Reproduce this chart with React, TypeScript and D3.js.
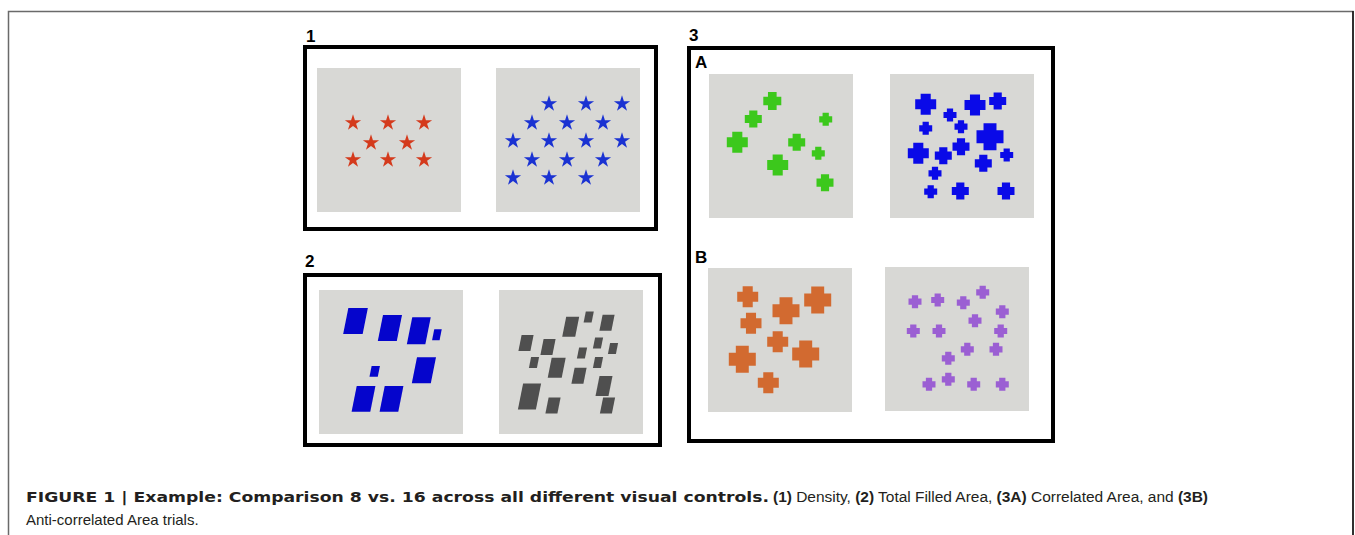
import React from "react";
import * as d3 from "d3";

// ---------- data (local coordinates inside each 144x144 stimulus square) ----------
const starsRed: [number, number][] = [
  [36, 54], [71, 54], [107, 54],
  [54, 74], [90, 74],
  [36, 91], [71, 91], [107, 91],
];
const starsBlue: [number, number][] = [
  [53, 35], [90, 35], [126, 35],
  [36, 54], [71, 54], [107, 54],
  [17, 72], [53, 72], [90, 72], [126, 72],
  [36, 91], [71, 91], [107, 91],
  [17, 109], [53, 109], [90, 109],
];
// [cx, cy, w, h]
const rectsBlue: [number, number, number, number][] = [
  [36.5, 31, 19.5, 26], [70.9, 38, 19, 26], [99.8, 40.7, 18.5, 27], [117.9, 44.7, 7.5, 11],
  [104.9, 80.3, 19, 26], [55.7, 81.3, 8.3, 10.7], [44.5, 108.8, 18.7, 25.7], [72.5, 108.8, 18.7, 25.7],
];
const rectsGray: [number, number, number, number][] = [
  [71.7, 36.7, 13, 20], [89.7, 27, 8, 11], [108, 32.7, 12, 16], [27, 53, 12, 16],
  [49, 57, 12, 16], [83, 63, 8, 11], [99, 53, 8, 11], [114, 58.5, 8, 11],
  [35, 72.5, 8, 11], [57.7, 77.7, 14, 20], [99, 72.5, 8, 11], [80, 85.8, 12, 16],
  [105, 96, 13, 20], [30.5, 106.5, 18, 26], [54, 115.5, 12, 16], [108.5, 115.5, 12, 16],
];
// [cx, cy, size]
const crossesGreen: [number, number, number][] = [
  [63.3, 27, 18], [44.3, 45, 17], [28.3, 68.3, 21], [87.7, 68.3, 17],
  [116.7, 45.3, 13], [109.3, 79.3, 13], [68.7, 91, 21], [116, 108.7, 17],
];
const crossesBlue: [number, number, number][] = [
  [35.7, 30.3, 21], [85, 31, 21], [107.7, 27, 17], [60, 41, 13],
  [35.7, 54.3, 13], [71, 52.7, 13], [100, 62.7, 27], [28.3, 79.3, 21],
  [53.3, 81.7, 17], [71, 72.7, 17], [116.7, 81, 13], [93.3, 89.3, 17],
  [45, 99.3, 13], [40.7, 117.7, 13], [70.3, 117, 17], [116, 117, 17],
];
const crossesOrange: [number, number, number][] = [
  [39.7, 28.7, 21], [78, 42.7, 27], [109.7, 32, 27], [43, 55.3, 21],
  [69.7, 73.7, 21], [34.3, 91.3, 27], [97.7, 86, 27], [60.3, 114.7, 21],
];
const crossesPurple: [number, number, number][] = [
  [30, 34.7, 13], [52.7, 33, 13], [78.3, 35.7, 13], [97.7, 25.3, 13],
  [117.3, 44.7, 13], [90, 53.7, 13], [28.3, 64, 13], [54, 64, 13],
  [115.7, 64, 13], [82.3, 82.3, 13], [111, 82.3, 13], [63.3, 91.3, 13],
  [44, 117.3, 13], [63.3, 112.3, 13], [88.7, 117.3, 13], [117.3, 117.3, 13],
];

const captionBold = "FIGURE 1 | Example: Comparison 8 vs. 16 across all different visual controls.";
const captionParts: [string, boolean][] = [
  ["(1)", true], [" Density,", false], [" (2)", true], [" Total Filled Area,", false],
  [" (3A)", true], [" Correlated Area, and", false], [" (3B)", true],
];
const captionLine2 = "Anti-correlated Area trials.";

// ---------- helpers ----------
const SQ = 144;

function scalesFor(x0: number, y0: number) {
  const x = d3.scaleLinear().domain([0, SQ]).range([x0, x0 + SQ]);
  const y = d3.scaleLinear().domain([0, SQ]).range([y0, y0 + SQ]);
  return { x, y };
}
function plusPath(s: number) {
  const h = s / 2;
  const a = s * 0.24;
  const p = d3.path();
  p.moveTo(-a, -h); p.lineTo(a, -h); p.lineTo(a, -a); p.lineTo(h, -a); p.lineTo(h, a);
  p.lineTo(a, a); p.lineTo(a, h); p.lineTo(-a, h); p.lineTo(-a, a); p.lineTo(-h, a);
  p.lineTo(-h, -a); p.lineTo(-a, -a); p.closePath();
  return p.toString();
}
function paraPath(w: number, h: number) {
  const sk = h * 0.2;
  const p = d3.path();
  p.moveTo(-w / 2 + sk / 2, -h / 2); p.lineTo(w / 2 + sk / 2, -h / 2);
  p.lineTo(w / 2 - sk / 2, h / 2); p.lineTo(-w / 2 - sk / 2, h / 2); p.closePath();
  return p.toString();
}
const starGen = d3.symbol().type(d3.symbolStar).size(82);

const Square = ({ x0, y0, children }: any) => (
  <g>
    <rect x={x0} y={y0} width={SQ} height={SQ} fill="#d8d8d5" />
    {children}
  </g>
);

function Stars({ x0, y0, data, color }: any) {
  const { x, y } = scalesFor(x0, y0);
  return (
    <Square x0={x0} y0={y0}>
      {data.map((d: [number, number], i: number) => (
        <path key={i} d={starGen() as string} transform={`translate(${x(d[0])},${y(d[1]) + 0.8})`} fill={color} />
      ))}
    </Square>
  );
}
function Paras({ x0, y0, data, color }: any) {
  const { x, y } = scalesFor(x0, y0);
  return (
    <Square x0={x0} y0={y0}>
      {data.map((d: number[], i: number) => (
        <path key={i} d={paraPath(d[2], d[3])} transform={`translate(${x(d[0])},${y(d[1])})`} fill={color} />
      ))}
    </Square>
  );
}
function Crosses({ x0, y0, data, color }: any) {
  const { x, y } = scalesFor(x0, y0);
  return (
    <Square x0={x0} y0={y0}>
      {data.map((d: number[], i: number) => (
        <path key={i} d={plusPath(d[2])} transform={`translate(${x(d[0])},${y(d[1])})`} fill={color} />
      ))}
    </Square>
  );
}

const labelStyle = { fontFamily: "Liberation Sans, Arial, sans-serif", fontWeight: 700, fontSize: 17 } as const;
const capFont = "Liberation Sans, Arial, sans-serif";

export default function App() {
  return (
    <svg width={1355} height={535} style={{ position: "absolute", left: 0, top: 0, background: "#fff" }}>
      {/* outer frame */}
      <path d="M8.5,535 L8.5,11.5 L1353,11.5 L1353,535" fill="none" stroke="#6a6a6a" strokeWidth={1.5} />
      <line x1={1353} y1={11} x2={1353} y2={535} stroke="#111" strokeWidth={1.5} />

      {/* panel 1 */}
      <text x={306} y={42} {...labelStyle}>1</text>
      <rect x={305} y={47} width={351} height={182} fill="none" stroke="#000" strokeWidth={4} />
      <Stars x0={317} y0={68} data={starsRed} color="#d43a1c" />
      <Stars x0={496} y0={68} data={starsBlue} color="#1a32d2" />

      {/* panel 2 */}
      <text x={305} y={267} {...labelStyle}>2</text>
      <rect x={305} y={275} width={355} height={170} fill="none" stroke="#000" strokeWidth={4} />
      <Paras x0={319} y0={290} data={rectsBlue} color="#0505cc" />
      <Paras x0={499} y0={290} data={rectsGray} color="#4f4f4f" />

      {/* panel 3 */}
      <text x={689} y={41} {...labelStyle}>3</text>
      <rect x={689} y={48} width={364} height={393} fill="none" stroke="#000" strokeWidth={4} />
      <text x={695} y={68} {...labelStyle}>A</text>
      <text x={695} y={263} {...labelStyle}>B</text>
      <Crosses x0={709} y0={74} data={crossesGreen} color="#3cc81c" />
      <Crosses x0={890} y0={74} data={crossesBlue} color="#0a0ae8" />
      <Crosses x0={708} y0={268} data={crossesOrange} color="#d26a30" />
      <Crosses x0={885} y0={267} data={crossesPurple} color="#9b5fd3" />

      {/* caption */}
      <text x={26} y={502} fontFamily="DejaVu Sans, sans-serif" fontSize={14.5} fontWeight={700} fill="#231f20"
        textLength={743} lengthAdjust="spacingAndGlyphs">
        {captionBold}
      </text>
      <text x={773} y={502} fontFamily={capFont} fontSize={15.5} fill="#231f20"
        textLength={435} lengthAdjust="spacing">
        {captionParts.map(([t, b], i) => (
          <tspan key={i} fontWeight={b ? 700 : 400}>{t}</tspan>
        ))}
      </text>
      <text x={26} y={525} fontFamily={capFont} fontSize={15} fill="#231f20">
        {captionLine2}
      </text>
    </svg>
  );
}
